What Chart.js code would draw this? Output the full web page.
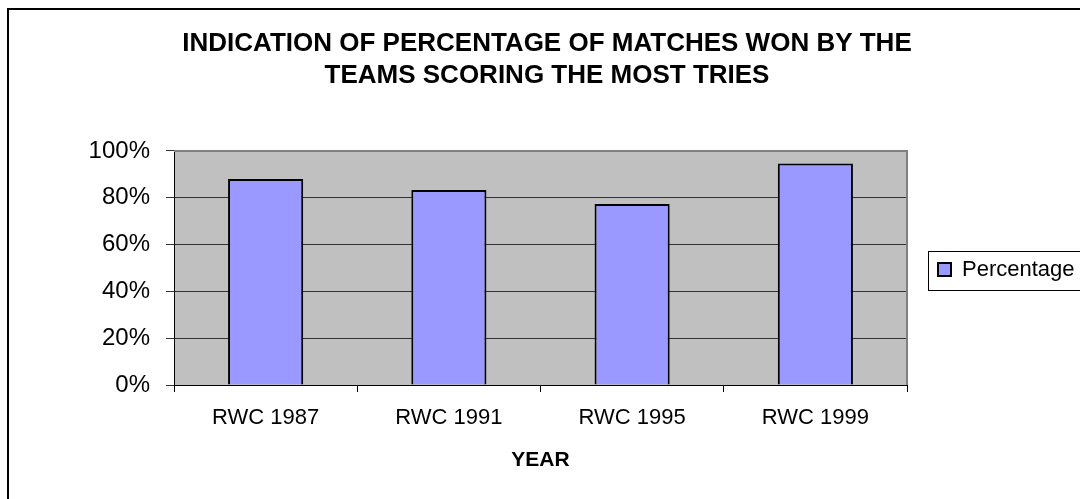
<!DOCTYPE html>
<html>
<head>
<meta charset="utf-8">
<title>Matches won by the teams scoring the most tries</title>
<script src="https://cdn.jsdelivr.net/npm/chart.js@4.4.1/dist/chart.umd.min.js"></script>
<style>
  html, body { margin: 0; padding: 0; background: #fff; }
  canvas { display: block; }
</style>
</head>
<body>
<canvas id="chart" width="1080" height="499"></canvas>
<script>
"use strict";
var years = ["RWC 1987", "RWC 1991", "RWC 1995", "RWC 1999"];
var percentage = [88, 83.3, 77.3, 94.6];
var yTicks = [0, 20, 40, 60, 80, 100];
var titleLines = ["INDICATION OF PERCENTAGE OF MATCHES WON BY THE", "TEAMS SCORING THE MOST TRIES"];

var FONT = "'Liberation Sans', Arial, sans-serif";

// grey plot area, its top/right edge, the legend frame and the outer frame
var decor = {
    id: "decor",
    beforeDraw: function(c) {
        var a = c.chartArea, ctx = c.ctx;
        ctx.save();
        ctx.fillStyle = "#c0c0c0";
        ctx.fillRect(a.left, a.top, a.right - a.left, a.bottom - a.top);
        ctx.restore();
    },
    beforeDatasetsDraw: function(c) {
        var a = c.chartArea, ctx = c.ctx;
        ctx.save();
        ctx.strokeStyle = "#808080";
        ctx.lineWidth = 2;
        ctx.beginPath();
        ctx.moveTo(a.left, a.top);
        ctx.lineTo(a.right, a.top);
        ctx.lineTo(a.right, a.bottom);
        ctx.stroke();
        ctx.restore();
    },
    afterDraw: function(c) {
        var ctx = c.ctx;
        ctx.save();
        var hb = c.legend.legendHitBoxes[0];
        if (hb) {
            var cy = hb.top + hb.height / 2;
            ctx.strokeStyle = "#000";
            ctx.lineWidth = 1;
            ctx.strokeRect(hb.left - 9.5, Math.round(cy - 19) + 0.5, 200, 39);
        }
        ctx.strokeStyle = "#000";
        ctx.lineWidth = 2;
        ctx.beginPath();
        ctx.moveTo(8, c.height);
        ctx.lineTo(8, 9);
        ctx.lineTo(c.width, 9);
        ctx.stroke();
        ctx.restore();
    }
};

new Chart(document.getElementById("chart").getContext("2d"), {
    type: "bar",
    data: {
        labels: years,
        datasets: [{
            label: "Percentage",
            data: percentage,
            backgroundColor: "#9999ff",
            borderColor: "#000",
            borderWidth: 2,
            barPercentage: 0.41,
            categoryPercentage: 1
        }]
    },
    options: {
        responsive: false,
        animation: false,
        layout: { padding: { left: 14, right: 0, top: 0, bottom: 0 } },
        plugins: {
            title: {
                display: true,
                text: titleLines,
                color: "#000",
                font: { family: FONT, size: 26, weight: "bold", lineHeight: 1.23 },
                padding: { top: 28, bottom: 59 }
            },
            legend: {
                position: "right",
                maxWidth: 173,
                // empty title only pushes the single item down to the middle
                title: { display: true, text: "", font: { size: 10, lineHeight: 1 }, padding: 15 },
                labels: {
                    color: "#000",
                    font: { family: FONT, size: 22 },
                    boxWidth: 13,
                    boxHeight: 13,
                    padding: 31
                }
            },
            tooltip: { enabled: false }
        },
        scales: {
            x: {
                afterFit: function(s) { s.height = 114; },
                grid: { display: true, drawOnChartArea: false, drawTicks: true, tickLength: 7, color: "#000" },
                border: { display: true, color: "#000", width: 1 },
                ticks: { color: "#000", font: { family: FONT, size: 22 }, padding: 13 },
                title: {
                    display: true,
                    text: "YEAR",
                    color: "#000",
                    font: { family: FONT, size: 21, weight: "bold" },
                    padding: { top: 4, bottom: 26 }
                }
            },
            y: {
                min: yTicks[0],
                max: yTicks[yTicks.length - 1],
                afterFit: function(s) { s.width = 160; },
                afterBuildTicks: function(s) {
                    s.ticks = yTicks.map(function(v) { return { value: v }; });
                },
                grid: { color: "#333", lineWidth: 1, tickLength: 8 },
                border: { display: true, color: "#000", width: 1 },
                ticks: {
                    color: "#000",
                    font: { family: FONT, size: 24 },
                    padding: 16,
                    callback: function(v) { return v + "%"; }
                }
            }
        }
    },
    plugins: [decor]
});
</script>
</body>
</html>
